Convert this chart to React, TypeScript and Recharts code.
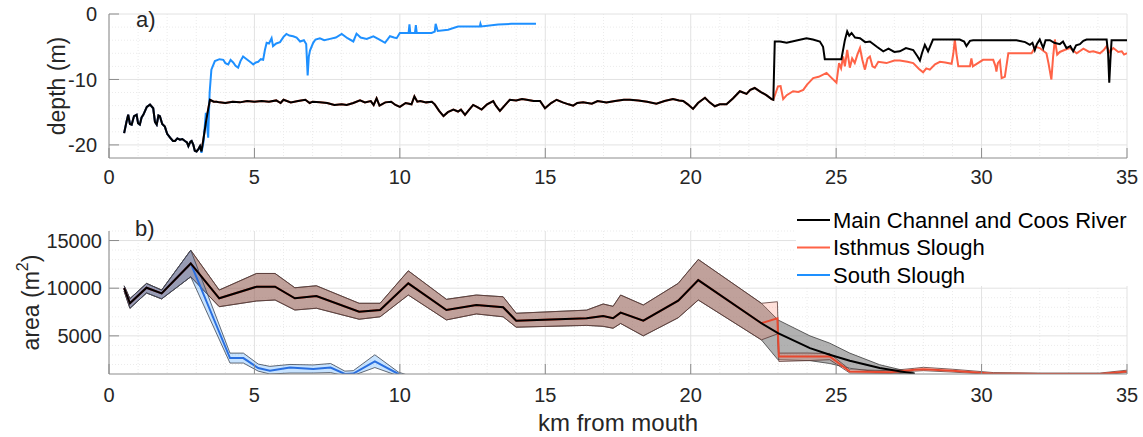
import React from 'react'
import { ComposedChart, LineChart, Line, Area, XAxis, YAxis, CartesianGrid, Label } from 'recharts'

const FONT = "'Liberation Sans', Arial, Helvetica, sans-serif"

// x axis (km from mouth)
const kmTicks = [0, 5, 10, 15, 20, 25, 30, 35]
const kmMinor = [1, 2, 3, 4, 6, 7, 8, 9, 11, 12, 13, 14, 16, 17, 18, 19, 21, 22, 23, 24, 26, 27, 28, 29, 31, 32, 33, 34]

// panel a) depth ticks
const depthTicks = [-20, -10, 0]
const depthMinor = [-2, -4, -6, -8, -12, -14, -16, -18]

// panel b) area ticks
const areaTicks = [5000, 10000, 15000]
const areaMinor = [2000, 3000, 4000, 6000, 7000, 8000, 9000, 11000, 12000, 13000, 14000, 16000]

// panel a) thalweg depth [km, m]
const mainDepth: [number, number][] = [
  [0.52, -18.2], [0.6, -16.5], [0.66, -15.4], [0.72, -16.8], [0.78, -16.9], [0.86, -15.6], [0.95, -15.4],
  [1.0, -16.7], [1.06, -16.9], [1.12, -15.8], [1.18, -15.4], [1.3, -14.2], [1.41, -13.85], [1.52, -14.4],
  [1.58, -16.5], [1.64, -16.9], [1.7, -15.5], [1.75, -15.6], [1.83, -16.8], [1.92, -17.2], [2.0, -18.3],
  [2.1, -18.9], [2.2, -19.4], [2.27, -19.4], [2.35, -19.0], [2.44, -19.2], [2.52, -19.1], [2.61, -19.4],
  [2.68, -19.6], [2.73, -20.2], [2.8, -19.5], [2.84, -19.4], [2.9, -20.0], [2.95, -20.9], [3.01, -21.0],
  [3.08, -20.6], [3.13, -20.2], [3.18, -21.0], [3.25, -19.0], [3.33, -16.6], [3.4, -14.8], [3.47, -13.1],
  [3.6, -13.4], [3.7, -13.4], [3.8, -13.5], [4.0, -13.6], [4.25, -13.4], [4.5, -13.5], [4.75, -13.3],
  [5.0, -13.4], [5.25, -13.3], [5.5, -13.4], [5.75, -13.2], [5.9, -13.6], [6.0, -13.1], [6.25, -13.5],
  [6.5, -13.3], [6.75, -13.1], [6.9, -13.6], [7.0, -13.4], [7.25, -13.5], [7.5, -13.6], [7.75, -13.9],
  [8.0, -13.8], [8.17, -13.9], [8.4, -13.6], [8.63, -13.2], [8.8, -13.5], [9.0, -13.3], [9.1, -13.9],
  [9.2, -12.9], [9.3, -14.0], [9.5, -13.5], [9.7, -13.4], [9.85, -13.9], [10.0, -14.2], [10.2, -13.6],
  [10.4, -13.8], [10.5, -12.6], [10.6, -13.4], [10.7, -13.3], [10.9, -13.5], [11.1, -13.4], [11.2, -13.8],
  [11.35, -14.8], [11.5, -15.6], [11.65, -15.0], [11.84, -14.6], [12.0, -14.9], [12.1, -14.6], [12.24, -15.4],
  [12.35, -14.8], [12.52, -13.9], [12.65, -14.2], [12.81, -14.6], [13.0, -13.8], [13.21, -13.3], [13.3, -14.0],
  [13.44, -14.8], [13.6, -14.0], [13.78, -13.1], [14.0, -13.2], [14.2, -13.0], [14.36, -13.1], [14.6, -13.3],
  [14.82, -13.3], [14.99, -14.4], [15.2, -13.6], [15.39, -13.1], [15.6, -13.5], [15.8, -13.8], [15.96, -14.0],
  [16.1, -13.6], [16.3, -13.5], [16.6, -13.7], [16.8, -13.3], [17.1, -13.5], [17.4, -13.3], [17.7, -13.1],
  [17.91, -13.1], [18.2, -13.2], [18.5, -13.4], [18.82, -13.7], [19.1, -13.3], [19.39, -13.0], [19.6, -13.2],
  [19.74, -13.3], [19.9, -13.8], [20.08, -14.5], [20.25, -13.6], [20.49, -12.8], [20.65, -13.5], [20.83, -14.1],
  [21.0, -13.8], [21.23, -13.8], [21.45, -12.9], [21.69, -11.8], [21.8, -12.0], [21.92, -12.2], [22.05, -11.6],
  [22.2, -11.3], [22.4, -11.9], [22.6, -12.4], [22.78, -13.0], [22.84, -13.1],
  [22.89, -4.2], [23.07, -4.2], [23.3, -4.4], [23.6, -4.1], [23.98, -3.7], [24.2, -3.9], [24.44, -4.2],
  [24.55, -5.0], [24.61, -6.9], [25.18, -6.9], [25.3, -4.0], [25.38, -2.65], [25.45, -3.3], [25.53, -2.9],
  [25.65, -3.6], [25.82, -3.7], [26.0, -4.3], [26.16, -4.2], [26.4, -5.0], [26.62, -5.7], [26.8, -5.3],
  [27.0, -5.8], [27.19, -5.7], [27.4, -5.2], [27.65, -5.5], [27.8, -6.5], [27.88, -7.1], [27.95, -6.0],
  [28.05, -4.7], [28.16, -5.7], [28.33, -3.9], [28.91, -3.9], [29.25, -3.9], [29.4, -4.2], [29.48, -4.9],
  [29.6, -4.1], [29.71, -4.0], [31.2, -4.0], [31.5, -4.3], [31.66, -4.7], [31.75, -4.4], [31.83, -5.5],
  [31.9, -4.6], [32.0, -3.9], [32.12, -5.2], [32.2, -4.0], [32.35, -4.0], [32.5, -4.4], [32.69, -4.6],
  [32.8, -4.2], [32.92, -5.2], [33.05, -4.9], [33.15, -5.7], [33.25, -4.8], [33.38, -4.6], [33.5, -4.1],
  [33.61, -3.9], [34.3, -3.9], [34.35, -6.0], [34.39, -10.5], [34.43, -7.0], [34.47, -4.0], [35.0, -4.0],
]

const isthmusDepthTail: [number, number][] = [
  [23.0, -11.05], [23.09, -11.0], [23.18, -13.0], [23.3, -12.4], [23.52, -11.8], [23.7, -11.9], [23.87, -11.6],
  [24.0, -10.8], [24.21, -9.8], [24.4, -9.6], [24.67, -9.0], [24.85, -9.8], [25.01, -10.5], [25.1, -7.5],
  [25.17, -8.3], [25.24, -6.5], [25.3, -8.0], [25.38, -5.5], [25.47, -8.2], [25.55, -6.8], [25.64, -7.5],
  [25.73, -6.2], [25.82, -5.2], [25.9, -7.0], [25.99, -8.5], [26.08, -6.8], [26.16, -6.5], [26.25, -8.0],
  [26.33, -8.2], [26.45, -7.3], [26.73, -7.5], [27.0, -7.1], [27.19, -7.1], [27.45, -7.3], [27.65, -7.5],
  [27.85, -8.4], [27.99, -8.9], [28.1, -8.3], [28.22, -8.5], [28.4, -7.7], [28.57, -7.3], [28.75, -7.4],
  [28.97, -7.6], [29.03, -6.0], [29.08, -3.9], [29.14, -6.2], [29.2, -8.0], [29.6, -8.0], [29.65, -6.8],
  [29.7, -8.0], [30.05, -7.0], [30.4, -7.0], [30.48, -8.0], [30.51, -8.8], [30.56, -7.5], [30.63, -7.1],
  [30.69, -9.8], [30.8, -9.6], [30.92, -6.0], [31.72, -6.0], [31.85, -5.0], [32.0, -5.2], [32.23, -6.0],
  [32.3, -7.5], [32.4, -10.0], [32.46, -6.5], [32.52, -3.9], [32.6, -6.2], [32.69, -5.8], [32.85, -5.5],
  [33.04, -5.2], [33.27, -6.0], [33.5, -5.3], [33.7, -5.8], [33.84, -5.7], [34.07, -6.0], [34.2, -5.5],
  [34.3, -4.9], [34.4, -5.8], [34.53, -5.2], [34.7, -5.8], [34.82, -5.7], [34.9, -6.2], [35.0, -6.0],
]

const southDepthTail: [number, number][] = [
  [3.18, -21.2], [3.25, -19.5], [3.33, -15.1], [3.41, -18.9], [3.46, -12.0], [3.52, -8.5], [3.64, -7.2],
  [3.8, -6.9], [3.93, -7.0], [4.0, -7.5], [4.1, -7.7], [4.18, -7.0], [4.27, -7.4], [4.35, -7.9], [4.44, -8.2],
  [4.52, -7.2], [4.61, -6.5], [4.7, -6.8], [4.79, -7.1], [4.88, -7.4], [4.96, -7.7], [5.05, -7.4], [5.13, -7.3],
  [5.22, -6.9], [5.3, -7.0], [5.36, -5.5], [5.42, -4.4], [5.5, -4.5], [5.59, -3.7], [5.64, -4.9], [5.75, -4.5],
  [5.88, -4.3], [6.0, -3.5], [6.1, -3.05], [6.2, -3.3], [6.33, -3.4], [6.45, -3.6], [6.57, -4.2], [6.7, -4.0],
  [6.78, -4.6], [6.83, -9.4], [6.87, -6.5], [6.91, -5.6], [7.02, -4.4], [7.1, -3.9], [7.25, -3.7], [7.4, -4.0],
  [7.6, -3.8], [7.8, -3.6], [8.0, -3.05], [8.2, -3.7], [8.4, -4.2], [8.51, -3.0], [8.65, -3.6], [8.86, -3.8],
  [9.09, -3.4], [9.3, -3.9], [9.49, -4.4], [9.66, -3.4], [9.8, -3.6], [9.89, -3.7], [10.0, -2.9], [10.3, -2.9],
  [10.33, -1.6], [10.36, -2.9], [10.52, -2.9], [10.55, -1.7], [10.58, -2.9], [11.09, -2.9], [11.2, -2.7],
  [11.23, -1.5], [11.3, -2.6], [11.66, -2.4], [12.0, -1.9], [12.75, -1.9], [12.77, -1.5], [12.8, -1.9],
  [13.38, -1.6], [13.84, -1.5], [14.68, -1.5],
]

// panel b) cross-sectional area [km, mean, low, high] in m^2
const mainArea: [number, number, number, number][] = [
  [0.52, 10000, 9700, 10250], [0.72, 8417, 7894, 8900], [1.29, 10047, 9500, 10500], [1.81, 9461, 8881, 9800],
  [2.81, 12596, 11196, 13986], [3.79, 8939, 8061, 9806], [5.07, 10151, 8657, 11545], [5.71, 10151, 8761, 11545],
  [6.39, 8939, 7710, 10047], [7.13, 9179, 7900, 10256], [8.6, 7539, 6744, 8417], [9.32, 7710, 7000, 8417],
  [10.29, 10506, 9284, 11823], [11.6, 7710, 6671, 8834], [12.63, 8239, 7300, 9284], [13.55, 8000, 7000, 9100],
  [14.0, 6598, 5909, 7371], [16.42, 6845, 6100, 7700], [16.99, 7070, 6000, 8343], [17.33, 6845, 5800, 8100],
  [17.59, 7434, 6300, 9284], [18.37, 6598, 5000, 8239], [19.57, 8688, 6900, 10506], [20.26, 10851, 8761, 13014],
  [22.43, 6326, 4581, 8417], [23.0, 5281, 2493, 6671], [24.1, 3714, 2400, 5000], [24.78, 3014, 2100, 4236],
  [25.47, 2387, 1600, 3190], [26.5, 1625, 1200, 1970], [27.7, 1030, 950, 1100],
]

const isthmusAreaTail: [number, number, number, number][] = [
  [22.98, 6845, 5200, 8583], [23.03, 2836, 2313, 3190], [24.0, 2836, 2400, 3200], [24.78, 2836, 2500, 3150],
  [25.47, 1268, 1100, 1450], [26.85, 1180, 1050, 1350], [27.7, 1446, 1300, 1600], [28.0, 1500, 1350, 1700],
  [29.0, 1350, 1200, 1500], [30.4, 1030, 950, 1150], [32.0, 1000, 900, 1100], [34.07, 1000, 900, 1100],
  [35.0, 1268, 1150, 1400],
]

const southAreaTail: [number, number, number, number][] = [
  [4.16, 2669, 2148, 3190], [4.62, 2669, 2148, 3190], [5.13, 1625, 1300, 2042], [5.53, 1342, 1000, 1800],
  [6.22, 1677, 1100, 2000], [7.02, 1520, 1100, 1950], [7.62, 1677, 1150, 2100], [8.11, 1000, 800, 1300],
  [8.4, 1050, 850, 1350], [9.14, 2313, 1677, 3014], [9.95, 1000, 800, 1200], [10.2, 750, 600, 950],
]

const toDepth = (pts: [number, number][]) => pts.map(([km, d]) => ({ km, d }))
const toArea = (pts: [number, number, number, number][]) =>
  pts.map(([km, mean, lo, hi]) => ({ km, mean, band: [lo, hi] }))

const mainDepthData = toDepth(mainDepth)
const isthmusDepthData = toDepth([...mainDepth.filter(([km]) => km <= 22.84), ...isthmusDepthTail])
const southDepthData = toDepth([...mainDepth.filter(([km]) => km <= 3.13), ...southDepthTail])

const mainAreaData = toArea(mainArea)
const isthmusAreaData = toArea([...mainArea.filter(([km]) => km <= 22.43), ...isthmusAreaTail])
const southAreaData = toArea([...mainArea.filter(([km]) => km <= 2.81), ...southAreaTail])

const AXIS = '#8c8c8c'
const TEXT = '#262626'
const tickStyle = { fill: TEXT, fontSize: 20, fontFamily: FONT }

const depthTitle = (props: any) => {
  const { x, y, height } = props.viewBox
  const cx = x + 57
  const cy = y + height / 2
  return (
    <text x={cx} y={cy} transform={`rotate(-90 ${cx} ${cy})`} textAnchor="middle" dominantBaseline="central"
      fontSize={23} fontFamily={FONT} fill={TEXT}>depth (m)</text>
  )
}

const areaTitle = (props: any) => {
  const { x, y, height } = props.viewBox
  const cx = x + 31
  const cy = y + height / 2
  return (
    <text x={cx} y={cy} transform={`rotate(-90 ${cx} ${cy})`} textAnchor="middle" dominantBaseline="central"
      fontSize={23} fontFamily={FONT} fill={TEXT}>
      area (m<tspan dy={-9} fontSize={16}>2</tspan><tspan dy={9}>)</tspan>
    </text>
  )
}

const kmTitle = (props: any) => {
  const { x, y, width } = props.viewBox
  return (
    <text x={x + width / 2} y={y + 57} textAnchor="middle" fontSize={24} fontFamily={FONT} fill={TEXT}>
      km from mouth
    </text>
  )
}

const legendItems = [
  { name: 'Main Channel and Coos River', color: '#000000' },
  { name: 'Isthmus Slough', color: '#ff6347' },
  { name: 'South Slough', color: '#1e90ff' },
]

export default function App() {
  return (
    <div style={{ position: 'absolute', left: 0, top: 0, width: 1143, height: 437, background: '#fff' }}>
      <div style={{ position: 'absolute', left: 0, top: 0 }}>
        <LineChart width={1143} height={200} margin={{ top: 14, right: 16, bottom: 0, left: 0 }}>
          <CartesianGrid stroke="#ebebeb" strokeDasharray="1 2" horizontalValues={depthMinor} verticalValues={kmMinor} />
          <CartesianGrid stroke="#e2e2e2" horizontalValues={depthTicks} verticalValues={kmTicks} />
          <XAxis type="number" dataKey="km" domain={[0, 35]} ticks={kmTicks} interval={0} allowDataOverflow
            height={42} tickSize={-10} tickMargin={22} tickLine={{ stroke: AXIS }} axisLine={{ stroke: AXIS }} tick={tickStyle} />
          <YAxis type="number" domain={[-22, 0]} ticks={depthTicks} interval={0} allowDataOverflow
            width={109} tickSize={-10} tickMargin={22} tickLine={{ stroke: AXIS }} axisLine={{ stroke: AXIS }} tick={tickStyle}>
            <Label content={depthTitle} />
          </YAxis>
          <Line data={isthmusDepthData} dataKey="d" type="linear" stroke="#ff6347" strokeWidth={2} dot={false} activeDot={false} isAnimationActive={false} />
          <Line data={southDepthData} dataKey="d" type="linear" stroke="#1e90ff" strokeWidth={2} dot={false} activeDot={false} isAnimationActive={false} />
          <Line data={mainDepthData} dataKey="d" type="linear" stroke="#000000" strokeWidth={2} dot={false} activeDot={false} isAnimationActive={false} />
        </LineChart>
      </div>

      <div style={{ position: 'absolute', left: 0, top: 200 }}>
        <ComposedChart width={1143} height={237} margin={{ top: 31, right: 16, bottom: 0, left: 0 }}>
          <CartesianGrid stroke="#ebebeb" strokeDasharray="1 2" horizontalValues={areaMinor} verticalValues={kmMinor} />
          <CartesianGrid stroke="#e2e2e2" horizontalValues={areaTicks} verticalValues={kmTicks} />
          <XAxis type="number" dataKey="km" domain={[0, 35]} ticks={kmTicks} interval={0} allowDataOverflow
            height={63} tickSize={-10} tickMargin={24} tickLine={{ stroke: AXIS }} axisLine={{ stroke: AXIS }} tick={tickStyle}>
            <Label content={kmTitle} />
          </XAxis>
          <YAxis type="number" domain={[1000, 16000]} ticks={areaTicks} interval={0} allowDataOverflow
            width={109} tickSize={-10} tickMargin={17} tickLine={{ stroke: AXIS }} axisLine={{ stroke: AXIS }} tick={tickStyle}>
            <Label content={areaTitle} />
          </YAxis>
          <Area data={mainAreaData} dataKey="band" type="linear" stroke="#3c3c3c" strokeWidth={0.8} fill="#646464" fillOpacity={0.5} dot={false} activeDot={false} isAnimationActive={false} />
          <Area data={isthmusAreaData} dataKey="band" type="linear" stroke="#5a3a36" strokeWidth={0.8} fill="#ff6347" fillOpacity={0.2} dot={false} activeDot={false} isAnimationActive={false} />
          <Area data={southAreaData} dataKey="band" type="linear" stroke="#3c4450" strokeWidth={0.8} fill="#1e90ff" fillOpacity={0.25} dot={false} activeDot={false} isAnimationActive={false} />
          <Line data={southAreaData} dataKey="mean" type="linear" stroke="#2a6fe0" strokeWidth={2} dot={false} activeDot={false} isAnimationActive={false} />
          <Line data={isthmusAreaData} dataKey="mean" type="linear" stroke="#e8482f" strokeWidth={2} dot={false} activeDot={false} isAnimationActive={false} />
          <Line data={mainAreaData} dataKey="mean" type="linear" stroke="#000000" strokeWidth={2} dot={false} activeDot={false} isAnimationActive={false} />
        </ComposedChart>
      </div>

      <svg width={1143} height={437} style={{ position: 'absolute', left: 0, top: 0, pointerEvents: 'none' }}>
        <text x={136} y={27} fontSize={22} fontFamily={FONT} fill={TEXT}>a)</text>
        <text x={135} y={236} fontSize={22} fontFamily={FONT} fill={TEXT}>b)</text>
        <rect x={796} y={200} width={347} height={86} fill="#ffffff" />
        {legendItems.map((item, i) => (
          <g key={item.name}>
            <line x1={797} x2={830} y1={220 + i * 27.5} y2={220 + i * 27.5} stroke={item.color} strokeWidth={2} />
            <text x={833} y={220 + i * 27.5} dominantBaseline="central" fontSize={22} fontFamily={FONT} fill="#000">{item.name}</text>
          </g>
        ))}
      </svg>
    </div>
  )
}
